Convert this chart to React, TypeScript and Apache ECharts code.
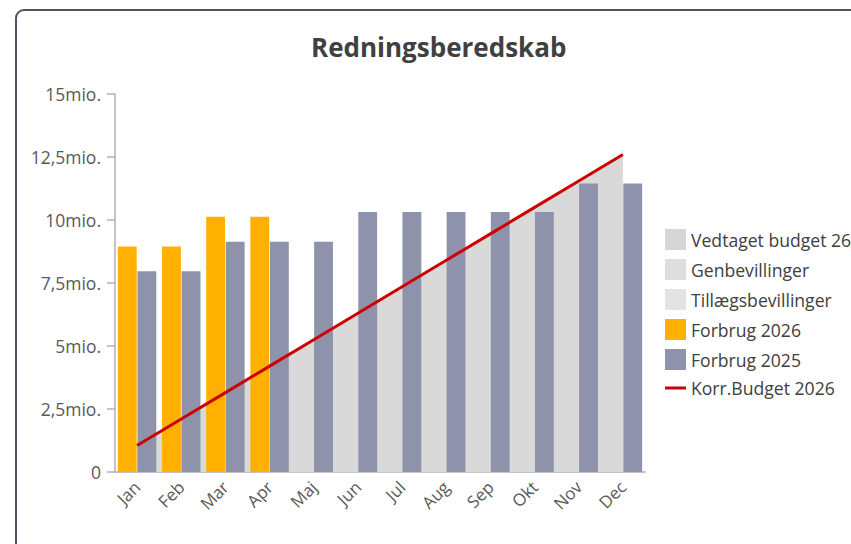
import React, { useEffect, useRef } from "react";
import * as echarts from "echarts";

const months = ["Jan", "Feb", "Mar", "Apr", "Maj", "Jun", "Jul", "Aug", "Sep", "Okt", "Nov", "Dec"];
// values in mio. kr.
const vedtagetBudget26 = [1.05, 2.1, 3.15, 4.2, 5.25, 6.3, 7.35, 8.4, 9.45, 10.5, 11.55, 12.6];
const genbevillinger = [0, 0, 0, 0, 0, 0, 0, 0, 0, 0, 0, 0];
const tillaegsbevillinger = [0, 0, 0, 0, 0, 0, 0, 0, 0, 0, 0, 0];
const forbrug2026 = [8.95, 8.95, 10.13, 10.13, null, null, null, null, null, null, null, null];
const forbrug2025 = [7.97, 7.97, 9.14, 9.14, 9.14, 10.32, 10.32, 10.32, 10.32, 10.32, 11.45, 11.45];
const korrBudget2026 = [1.05, 2.1, 3.15, 4.2, 5.25, 6.3, 7.35, 8.4, 9.45, 10.5, 11.55, 12.6];
const yTicks = [0, 2.5, 5, 7.5, 10, 12.5, 15];

const FONT = "'Open Sans', 'Noto Sans', sans-serif";
const TXT = "#595959";

export default function App() {
  const ref = useRef<HTMLDivElement>(null);
  useEffect(() => {
    if (!ref.current) return;
    const chart = echarts.init(ref.current, null, { renderer: "svg" });
    const fmt = (v: number) => (v === 0 ? "0" : String(v).replace(".", ",") + "mio.");
    chart.setOption({
      animation: false,
      textStyle: { fontFamily: FONT },
      title: {
        text: "Redningsberedskab",
        left: 306,
        top: 29,
        textStyle: { fontFamily: FONT, fontSize: 26, fontWeight: "bold", color: "#404040" },
      },
      legend: {
        orient: "vertical",
        left: 665,
        top: 229,
        padding: 0,
        itemWidth: 21,
        itemHeight: 21,
        itemGap: 9,
        textStyle: { fontFamily: FONT, fontSize: 17.6, color: "#404040" },
        data: [
          { name: "Vedtaget budget 26", icon: "rect" },
          { name: "Genbevillinger", icon: "rect" },
          { name: "Tillægsbevillinger", icon: "rect" },
          { name: "Forbrug 2026", icon: "rect" },
          { name: "Forbrug 2025", icon: "rect" },
          { name: "Korr.Budget 2026", icon: "path://M0,0H21V3H0Z" },
        ],
      },
      grid: { left: 115, right: 206, top: 94, bottom: 72, containLabel: false },
      xAxis: {
        type: "category",
        data: months,
        boundaryGap: true,
        axisLine: { lineStyle: { color: "#b0b0b0", width: 1.5 } },
        axisTick: { alignWithLabel: true, length: 7, lineStyle: { color: "#b0b0b0", width: 1.5 } },
        axisLabel: { rotate: 45, fontSize: 17, color: TXT, margin: 12, fontFamily: FONT },
      },
      yAxis: {
        type: "value",
        min: 0,
        max: yTicks[yTicks.length - 1],
        interval: yTicks[1] - yTicks[0],
        splitLine: { show: false },
        axisLine: { show: true, lineStyle: { color: "#b0b0b0", width: 1.5 } },
        axisTick: { show: true, length: 8, lineStyle: { color: "#b0b0b0", width: 1.5 } },
        axisLabel: { fontSize: 17.5, color: TXT, margin: 14, formatter: fmt, fontFamily: FONT },
      },
      series: [
        {
          name: "Vedtaget budget 26",
          type: "line",
          stack: "budget",
          data: vedtagetBudget26,
          symbol: "none",
          lineStyle: { width: 0 },
          itemStyle: { color: "#d6d6d6" },
          areaStyle: { color: "#d9d9d9", opacity: 1 },
          z: 1,
        },
        {
          name: "Genbevillinger",
          type: "line",
          stack: "budget",
          data: genbevillinger,
          symbol: "none",
          lineStyle: { width: 0 },
          itemStyle: { color: "#dedede" },
          areaStyle: { color: "#dedede", opacity: 1 },
          z: 1,
        },
        {
          name: "Tillægsbevillinger",
          type: "line",
          stack: "budget",
          data: tillaegsbevillinger,
          symbol: "none",
          lineStyle: { width: 0 },
          itemStyle: { color: "#e3e3e3" },
          areaStyle: { color: "#e3e3e3", opacity: 1 },
          z: 1,
        },
        {
          name: "Forbrug 2026",
          type: "bar",
          data: forbrug2026,
          barGap: "4%",
          barCategoryGap: "13%",
          itemStyle: { color: "#ffb000" },
          z: 2,
        },
        {
          name: "Forbrug 2025",
          type: "bar",
          data: forbrug2025,
          barGap: "4%",
          barCategoryGap: "13%",
          itemStyle: { color: "#8e93ab" },
          z: 2,
        },
        {
          name: "Korr.Budget 2026",
          type: "line",
          data: korrBudget2026,
          symbol: "none",
          itemStyle: { color: "#cc0000" },
          lineStyle: { color: "#cc0000", width: 3 },
          z: 3,
        },
      ],
    });
    return () => chart.dispose();
  }, []);

  return (
    <div style={{ position: "fixed", left: 0, top: 0, width: 851, height: 544, overflow: "hidden", background: "#fff" }}>
      <div
        style={{
          position: "absolute",
          left: 15,
          top: 9,
          width: 900,
          height: 600,
          border: "2px solid #4b5563",
          borderRadius: 9,
          boxSizing: "border-box",
        }}
      />
      <div ref={ref} style={{ position: "absolute", left: 0, top: 0, width: 851, height: 544 }} />
    </div>
  );
}
